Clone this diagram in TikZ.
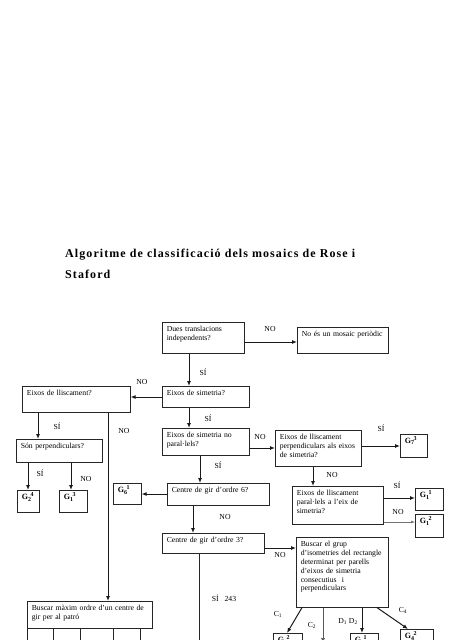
\documentclass[tikz,border=0pt]{standalone}
\usepackage{fontspec}
\setmainfont{Liberation Serif}
\usetikzlibrary{arrows.meta}
\newcommand\gsym[2]{\textbf{G}\textsubscript{\textbf{#1}}\kern-0.8pt\textsuperscript{\textbf{#2}}}
\tikzset{
  qbox/.style={draw=black!85, line width=0.6pt, anchor=north west, align=left,
    inner xsep=4.5pt, inner ysep=3.5pt, text height=6pt,
    font=\fontsize{7.7}{8.8}\selectfont},
  gbox/.style={qbox, font=\fontsize{8}{9}\selectfont},
  lbl/.style={inner sep=0pt, font=\fontsize{7.7}{9}\selectfont},
  ttl/.style={anchor=base west, inner sep=0pt,
    font=\fontsize{12}{14}\selectfont\bfseries\addfontfeature{LetterSpace=9}},
  arr/.style={-{Latex[length=5pt,width=4pt]}, line width=1pt, black!90},
  ln/.style={line width=0.9pt, black!85}
}
\begin{document}
\begin{tikzpicture}[x=1pt, y=-1pt]
\useasboundingbox (0,0) rectangle (452,640);
% title
\node[ttl] (title1) at (65,257) {Algoritme de classificació dels mosaics de Rose i};
\node[ttl] (title2) at (65,278) {Staford};
% questions
\node[qbox, text width=73pt, text depth=18pt] (q1) at (162,322) {Dues translacions\\independents?};
\node[qbox, text width=82pt, text depth=13pt] (nonper) at (297,327) {No és un mosaic periòdic};
\node[qbox, text width=78pt, text depth=8pt] (q2) at (162,386) {Eixos de simetria?};
\node[qbox, text width=99pt, text depth=13pt] (lls) at (22,386) {Eixos de lliscament?};
\node[qbox, text width=78pt, text depth=14pt] (q3) at (162,428) {Eixos de simetria no\\paral·lels?};
\node[qbox, text width=77pt, text depth=23pt] (perp) at (275,430) {Eixos de lliscament\\perpendiculars als eixos\\de simetria?};
\node[qbox, text width=77pt, text depth=10pt] (son) at (16,439) {Són perpendiculars?};
\node[qbox, text width=93pt, text depth=9pt] (q4) at (167,483) {Centre de gir d’ordre 6?};
\node[qbox, text width=82pt, text depth=25pt] (par) at (292,486) {Eixos de lliscament\\paral·lels a l’eix de\\simetria?};
\node[qbox, text width=93pt, text depth=7pt] (q5) at (162,533) {Centre de gir d’ordre 3?};
\node[qbox, text width=83pt, text depth=57pt] (grp) at (296,537) {Buscar el grup\\d’isometries del rectangle\\determinat per parells\\d’eixos de simetria\\consecutius~ i\\perpendiculars};
\node[qbox, text width=116pt, text depth=14pt] (bmax) at (27,601) {Buscar màxim ordre d’un centre de\\gir per al patró};
% groups
\node[gbox, text width=18pt, text depth=10pt] (g73) at (400,434) {\gsym{7}{3}};
\node[gbox, text width=19pt, text depth=8pt] (g61) at (113,483) {\gsym{6}{1}};
\node[gbox, text width=19pt, text depth=9pt] (g11) at (415,488) {\gsym{1}{1}};
\node[gbox, text width=19pt, text depth=10pt] (g12) at (415,514) {\gsym{1}{2}};
\node[gbox, text width=13pt, text depth=9pt] (g24) at (17,490) {\gsym{2}{4}};
\node[gbox, text width=19pt, text depth=9pt] (g13) at (59,490) {\gsym{1}{3}};
\node[gbox, text width=20pt, text depth=9pt] (g22) at (273,633) {\gsym{2}{2}};
\node[gbox, text width=19pt, text depth=9pt] (g21) at (350,633) {\gsym{2}{1}};
\node[gbox, text width=24pt, text depth=9pt] (g42) at (400,629) {\gsym{4}{2}};
% connectors
\draw[arr] (q1.east |- 0,342) -- (nonper.west |- 0,342);
\draw[arr] (189,0 |- q1.south) -- (189,0 |- q2.north);
\draw[arr] (q2.west |- 0,397) -- (lls.east |- 0,397);
\draw[arr] (189,0 |- q2.south) -- (189,0 |- q3.north);
\draw[arr] (108,0 |- lls.south) -- (108,0 |- bmax.north);
\draw[arr] (38,0 |- lls.south) -- (38,0 |- son.north);
\draw[arr] (28,0 |- son.south) -- (28,0 |- g24.north);
\draw[arr] (71,0 |- son.south) -- (71,0 |- g13.north);
\draw[arr] (q3.east |- 0,448) -- (perp.west |- 0,448);
\draw[arr] (200,0 |- q3.south) -- (200,0 |- q4.north);
\draw[arr] (perp.east |- 0,446) -- (g73.west |- 0,446);
\draw[arr] (313,0 |- perp.south) -- (313,0 |- par.north);
\draw[arr] (q4.west |- 0,494) -- (g61.east |- 0,494);
\draw[arr] (193,0 |- q4.south) -- (193,0 |- q5.north);
\draw[arr] (par.east |- 0,498) -- (g11.west |- 0,498);
\draw[-{Latex[length=4pt,width=3pt]}, line width=0.5pt, black!55] (par.east |- 0,522) -- (g12.west |- 0,522);
\draw[arr] (q5.east |- 0,548) -- (grp.west |- 0,548);
\draw[ln] (199,0 |- q5.south) -- (199,645) coordinate (q5out);
\draw[arr] (302,0 |- grp.south) -- (287,0 |- g22.north);
\draw[arr, line width=0.6pt, black!65] (323,0 |- grp.south) -- (323,643) coordinate (c2out);
\draw[arr] (362,0 |- grp.south) -- (362,0 |- g21.north);
\draw[arr] (377,0 |- grp.south) -- (408,0 |- g42.north);
\foreach \x [count=\i] in {27,53,80,113,140}
  \draw[ln] (\x,0 |- bmax.south) -- (\x,645) coordinate (bm\i);
% labels
\node[lbl] (no1) at (270,329) {NO};
\node[lbl] (si1) at (203,372) {SÍ};
\node[lbl] (no2) at (142,382) {NO};
\node[lbl] (si2) at (208,418) {SÍ};
\node[lbl] (no3) at (124,431) {NO};
\node[lbl] (si3) at (57,426) {SÍ};
\node[lbl] (si4) at (40,473) {SÍ};
\node[lbl] (no4) at (86,479) {NO};
\node[lbl] (no5) at (260,437) {NO};
\node[lbl] (si5) at (218,465) {SÍ};
\node[lbl] (si6) at (381,428) {SÍ};
\node[lbl] (no6) at (332,475) {NO};
\node[lbl] (no7) at (225,517) {NO};
\node[lbl] (si7) at (397,485) {SÍ};
\node[lbl] (no8) at (398,512) {NO};
\node[lbl] (no9) at (280,555) {NO};
\node[lbl] (si8) at (224,598) {SÍ\hspace{6pt}243};
\node[lbl] (c1) at (278,614) {C\textsubscript{1}};
\node[lbl] (c2) at (312,625) {C\textsubscript{2}};
\node[lbl] (d12) at (348,621) {D\textsubscript{1} D\textsubscript{2}};
\node[lbl] (c4) at (403,610) {C\textsubscript{4}};
\end{tikzpicture}
\end{document}
